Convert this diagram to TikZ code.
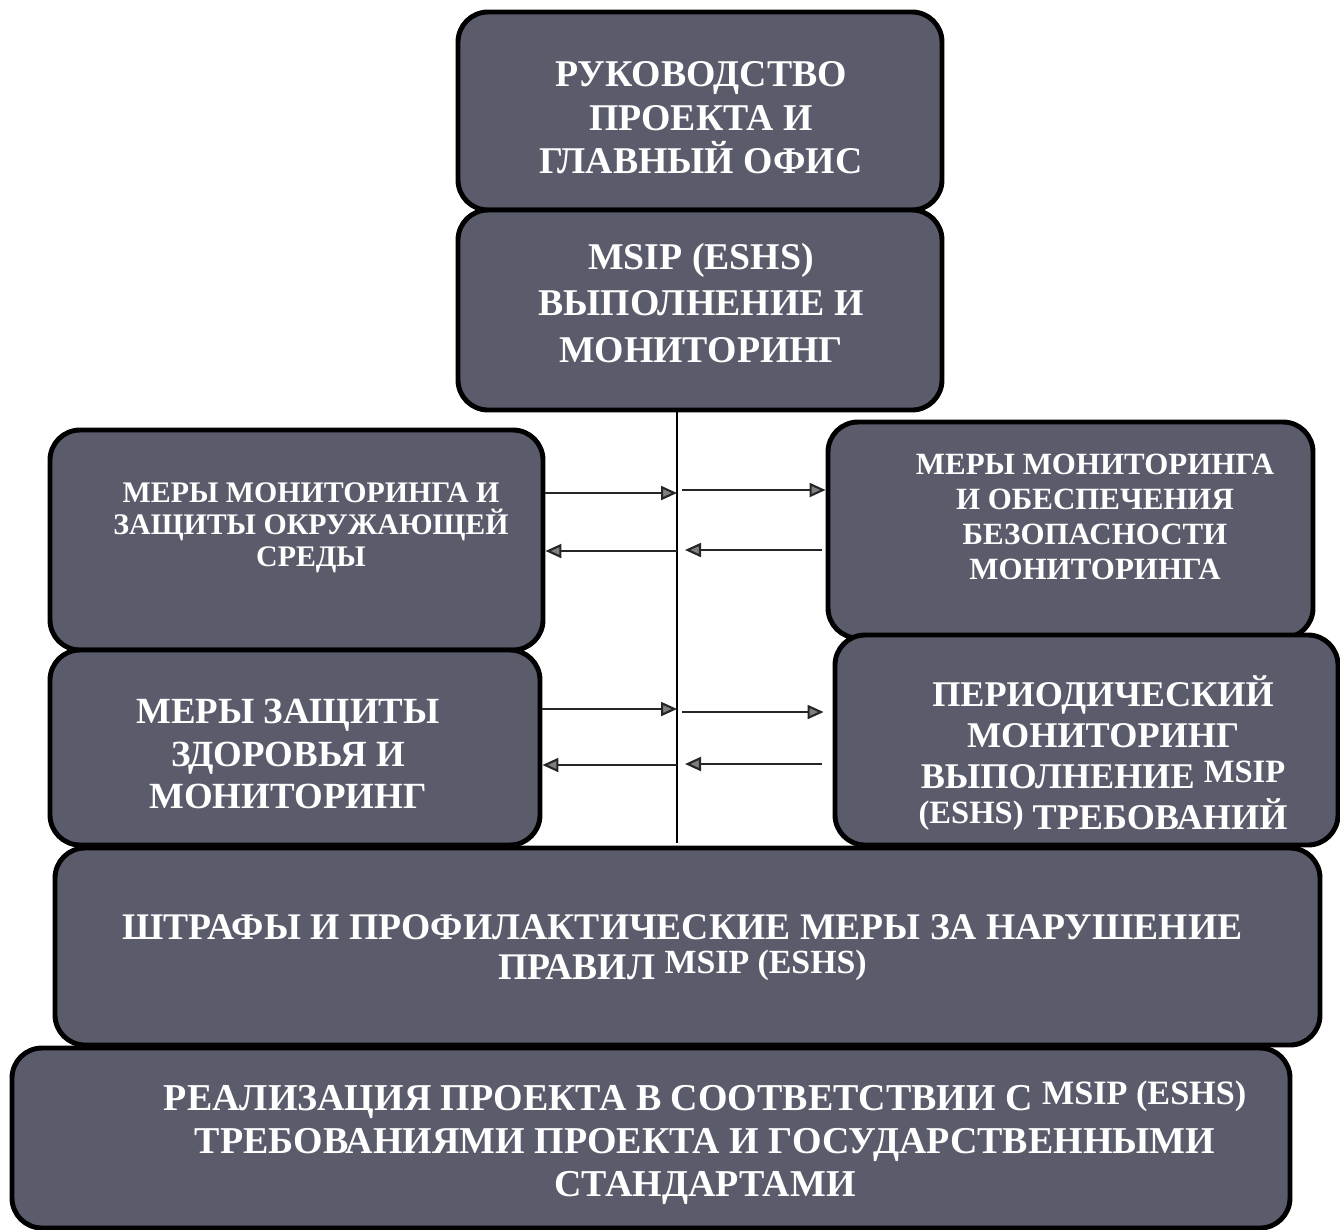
\documentclass[tikz,border=0pt]{standalone}
\usepackage{fontspec}
\setmainfont{Liberation Serif}
\usetikzlibrary{arrows.meta}

\definecolor{boxgray}{RGB}{90,92,108}

% raised, smaller latin abbreviations inside cyrillic lines
\newcommand{\lat}[1]{\raisebox{0.35ex}{\scalebox{0.9}{#1}}}

\tikzset{
  box/.style={draw=black, line width=2.8pt, rounded corners=0.6cm, fill=boxgray, inner sep=0pt},
  txt/.style={text=white, align=center, inner sep=0pt},
  flow/.style={line width=1.2pt, black!85, -{Triangle[length=3.2mm, width=2.8mm, fill=gray]}},
}

\begin{document}
\begin{tikzpicture}
\useasboundingbox (0,0) rectangle (26.8,-24.58);

% boxes
\node[box, minimum width=9.68cm, minimum height=3.96cm] (head) at (14.0,-2.22) {};
\node[box, minimum width=9.68cm, minimum height=4.0cm] (msip) at (14.0,-6.2) {};
\node[box, minimum width=9.86cm, minimum height=4.4cm] (envbox) at (5.93,-10.8) {};
\node[box, minimum width=9.7cm, minimum height=4.32cm] (safety) at (21.41,-10.6) {};
\node[box, minimum width=9.8cm, minimum height=3.9cm] (health) at (5.9,-14.95) {};
\node[box, minimum width=10.06cm, minimum height=4.2cm] (periodic) at (21.73,-14.8) {};
\node[box, minimum width=25.3cm, minimum height=3.94cm] (fines) at (13.75,-18.93) {};
\node[box, minimum width=25.56cm, minimum height=3.6cm] (impl) at (13.02,-22.76) {};

% texts
\node[txt, font=\bfseries\fontsize{21.5}{24.7}\selectfont] (head-txt) at (14.02,-2.36)
  {РУКОВОДСТВО\\ПРОЕКТА И\\ГЛАВНЫЙ ОФИС};
\node[txt, font=\bfseries\fontsize{21.5}{26.5}\selectfont] (msip-txt) at (14.02,-6.06)
  {MSIP (ESHS)\\ВЫПОЛНЕНИЕ И\\МОНИТОРИНГ};
\node[txt, font=\bfseries\fontsize{17}{18.2}\selectfont] (envbox-txt) at (6.22,-10.56)
  {МЕРЫ МОНИТОРИНГА И\\ЗАЩИТЫ ОКРУЖАЮЩЕЙ\\СРЕДЫ};
\node[txt, font=\bfseries\fontsize{17.6}{19.8}\selectfont] (safety-txt) at (21.9,-10.34)
  {МЕРЫ МОНИТОРИНГА\\И ОБЕСПЕЧЕНИЯ\\БЕЗОПАСНОСТИ\\МОНИТОРИНГА};
\node[txt, font=\bfseries\fontsize{21}{24}\selectfont] (health-txt) at (5.76,-15.08)
  {МЕРЫ ЗАЩИТЫ\\ЗДОРОВЬЯ И\\МОНИТОРИНГ};
\node[txt, font=\bfseries\fontsize{20.6}{23.3}\selectfont] (periodic-txt) at (22.06,-15.06)
  {ПЕРИОДИЧЕСКИЙ\\МОНИТОРИНГ\\ВЫПОЛНЕНИЕ \lat{MSIP}\\\lat{(ESHS)} ТРЕБОВАНИЙ};
\node[txt, font=\bfseries\fontsize{21.4}{22.8}\selectfont] (fines-txt) at (13.65,-18.96)
  {ШТРАФЫ И ПРОФИЛАКТИЧЕСКИЕ МЕРЫ ЗА НАРУШЕНИЕ\\ПРАВИЛ \lat{MSIP (ESHS)}};
\node[txt, font=\bfseries\fontsize{21.6}{24.5}\selectfont] (impl-txt) at (14.1,-22.86)
  {РЕАЛИЗАЦИЯ ПРОЕКТА В СООТВЕТСТВИИ С \lat{MSIP (ESHS)}\\ТРЕБОВАНИЯМИ ПРОЕКТА И ГОСУДАРСТВЕННЫМИ\\СТАНДАРТАМИ};

% spine
\coordinate (sp-top) at (13.54,-8.2);
\coordinate (sp-bot) at (13.54,-16.86);
\draw[line width=1.2pt] (sp-top) -- (sp-bot);

% arrows to and from the spine
\coordinate (lA) at (13.54,-9.86);
\coordinate (rA) at (13.64,-9.80);
\coordinate (rB) at (13.70,-11.0);
\coordinate (lB) at (13.54,-11.02);
\coordinate (lC) at (13.54,-14.18);
\coordinate (rC) at (13.64,-14.24);
\coordinate (rD) at (13.70,-15.28);
\coordinate (lD) at (13.54,-15.30);

\draw[flow] (envbox.east |- lA) -- (lA);
\draw[flow] (rA) -- (safety.west |- rA);
\draw[flow, shorten <=0.08cm] (safety.west |- rB) -- (rB);
\draw[flow] (lB) -- (envbox.east |- lB);

\draw[flow] (health.east |- lC) -- (lC);
\draw[flow, shorten >=0.18cm] (rC) -- (periodic.west |- rC);
\draw[flow, shorten <=0.22cm] (periodic.west |- rD) -- (rD);
\draw[flow] (lD) -- (health.east |- lD);

\end{tikzpicture}
\end{document}
